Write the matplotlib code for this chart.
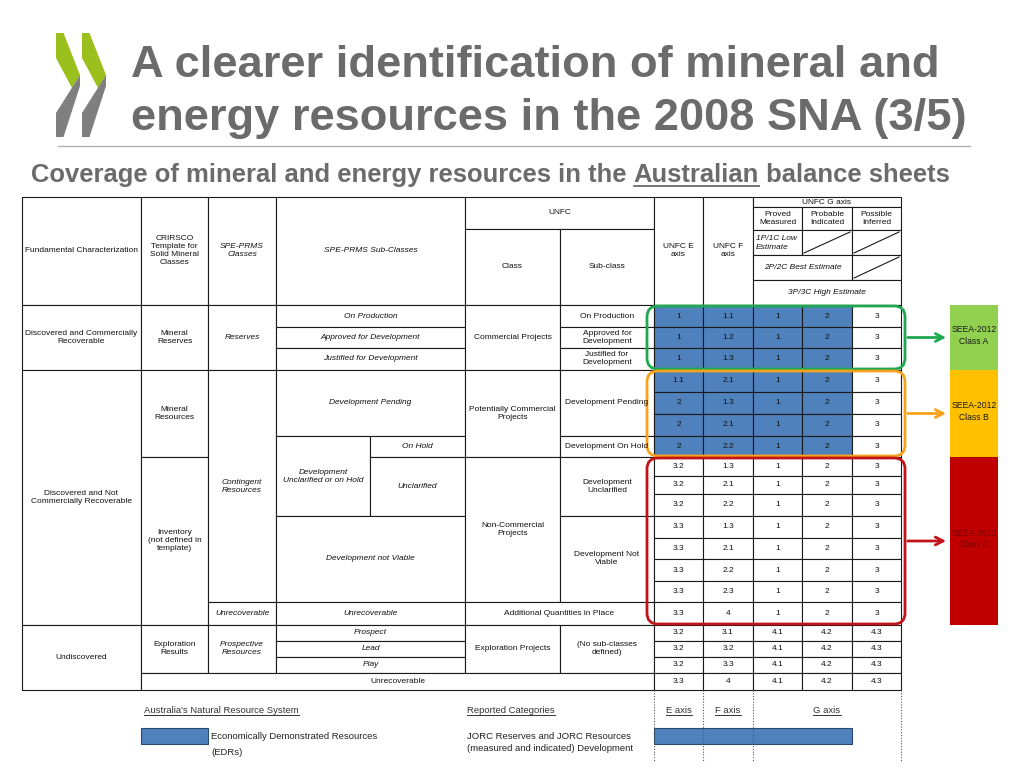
import matplotlib
matplotlib.use("Agg")
import matplotlib.pyplot as plt
from matplotlib.patches import Rectangle, Polygon, FancyBboxPatch

plt.rcParams["font.family"] = ["Liberation Sans", "DejaVu Sans"]

# ---- values ----
title_lines = ["A clearer identification of mineral and",
               "energy resources in the 2008 SNA (3/5)"]
subtitle = ["Coverage of mineral and energy resources in the ", "Australian", " balance sheets"]

e_axis = ["1", "1", "1", "1.1", "2", "2", "2", "3.2", "3.2", "3.2", "3.3", "3.3",
          "3.3", "3.3", "3.3", "3.2", "3.2", "3.2", "3.3"]
f_axis = ["1.1", "1.2", "1.3", "2.1", "1.3", "2.1", "2.2", "1.3", "2.1", "2.2", "1.3",
          "2.1", "2.2", "2.3", "4", "3.1", "3.2", "3.3", "4"]
g_proved = ["1", "1", "1", "1", "1", "1", "1", "1", "1", "1", "1", "1", "1", "1", "1",
            "4.1", "4.1", "4.1", "4.1"]
g_probable = ["2", "2", "2", "2", "2", "2", "2", "2", "2", "2", "2", "2", "2", "2", "2",
              "4.2", "4.2", "4.2", "4.2"]
g_possible = ["3", "3", "3", "3", "3", "3", "3", "3", "3", "3", "3", "3", "3", "3", "3",
              "4.3", "4.3", "4.3", "4.3"]
n_edr_rows = 7  # rows shaded as EDRs

seea_classes = ["SEEA-2012\nClass A", "SEEA-2012\nClass B", "SEEA-2012\nClass C"]

# ---- layout (pixels) ----
row_edges = [305, 327, 348, 370, 392, 414, 436, 457, 476, 494, 516, 538, 559, 581,
             602, 625, 641, 657, 673, 690]
num_cols = [654, 703, 753, 802, 852, 901]
class_rows = [(0, 3), (3, 7), (7, 15)]  # row ranges grouped into SEEA classes

line_c = "#1a1a1a"
blue = "#4F81BD"
grey_txt = "#6b6b6b"
class_c = ["#1fa84f", "#f7a21b", "#c0141a"]
box_c = ["#92D050", "#FFC000", "#C00000"]
box_txt = ["#1a1a1a", "#1a1a1a", "#7a0000"]

# (x0, x1, y0, y1, text, italic)
cells = [
    (22, 141, 197, 305, "Fundamental Characterization", False),
    (141, 208, 197, 305, "CRIRSCO\nTemplate for\nSolid Mineral\nClasses", False),
    (208, 276, 197, 305, "SPE-PRMS\nClasses", True),
    (276, 465, 197, 305, "SPE-PRMS Sub-Classes", True),
    (465, 654, 197, 229, "UNFC", False),
    (465, 560, 229, 305, "Class", False),
    (560, 654, 229, 305, "Sub-class", False),
    (654, 703, 197, 305, "UNFC E\naxis", False),
    (703, 753, 197, 305, "UNFC F\naxis", False),
    (753, 901, 197, 207, "UNFC G axis", False),
    (753, 802, 207, 230, "Proved\nMeasured", False),
    (802, 852, 207, 230, "Probable\nIndicated", False),
    (852, 901, 207, 230, "Possible\nInferred", False),
    (753, 802, 230, 255, "", False),
    (802, 852, 230, 255, "", False),
    (852, 901, 230, 255, "", False),
    (753, 852, 255, 280, "2P/2C Best Estimate", True),
    (852, 901, 255, 280, "", False),
    (753, 901, 280, 305, "3P/3C High Estimate", True),
    # left block
    (22, 141, 305, 370, "Discovered and Commercially\nRecoverable", False),
    (22, 141, 370, 625, "Discovered and Not\nCommercially Recoverable", False),
    (22, 141, 625, 690, "Undiscovered", False),
    (141, 208, 305, 370, "Mineral\nReserves", False),
    (141, 208, 370, 457, "Mineral\nResources", False),
    (141, 208, 457, 625, "Inventory\n(not defined in\ntemplate)", False),
    (141, 208, 625, 673, "Exploration\nResults", False),
    (208, 276, 305, 370, "Reserves", True),
    (208, 276, 370, 602, "Contingent\nResources", True),
    (208, 276, 602, 625, "Unrecoverable", True),
    (208, 276, 625, 673, "Prospective\nResources", True),
    (276, 465, 305, 327, "On Production", True),
    (276, 465, 327, 348, "Approved for Development", True),
    (276, 465, 348, 370, "Justified for Development", True),
    (276, 465, 370, 436, "Development Pending", True),
    (276, 370, 436, 516, "Development\nUnclarified or on Hold", True),
    (370, 465, 436, 457, "On Hold", True),
    (370, 465, 457, 516, "Unclarified", True),
    (276, 465, 516, 602, "Development not Viable", True),
    (276, 465, 602, 625, "Unrecoverable", True),
    (276, 465, 625, 641, "Prospect", True),
    (276, 465, 641, 657, "Lead", True),
    (276, 465, 657, 673, "Play", True),
    (465, 560, 305, 370, "Commercial Projects", False),
    (560, 654, 305, 327, "On Production", False),
    (560, 654, 327, 348, "Approved for\nDevelopment", False),
    (560, 654, 348, 370, "Justified for\nDevelopment", False),
    (465, 560, 370, 457, "Potentially Commercial\nProjects", False),
    (560, 654, 370, 436, "Development Pending", False),
    (560, 654, 436, 457, "Development On Hold", False),
    (465, 560, 457, 602, "Non-Commercial\nProjects", False),
    (560, 654, 457, 516, "Development\nUnclarified", False),
    (560, 654, 516, 602, "Development Not\nViable", False),
    (465, 654, 602, 625, "Additional Quantities in Place", False),
    (465, 560, 625, 673, "Exploration Projects", False),
    (560, 654, 625, 673, "(No sub-classes\ndefined)", False),
    (141, 654, 673, 690, "Unrecoverable", False),
]
diag_cells = [(802, 852, 230, 255), (852, 901, 230, 255), (852, 901, 255, 280)]

fig = plt.figure(figsize=(10.24, 7.68), dpi=100)
ax = fig.add_axes([0, 0, 1, 1])
ax.set_xlim(0, 1024)
ax.set_ylim(768, 0)
ax.axis("off")
renderer = fig.canvas.get_renderer()


def text_span(t):
    bb = t.get_window_extent(renderer)
    inv = ax.transData.inverted()
    return inv.transform((bb.x0, bb.y0))[0], inv.transform((bb.x1, bb.y0))[0]


def underlined(x, y, s, ha="left", fs=6.8, color="#333333"):
    t = ax.text(x, y, s, ha=ha, va="baseline", fontsize=fs, color=color)
    ax.plot(text_span(t), [y + 2, y + 2], color=color, lw=0.7)


# ---- logo ----
for dx in (0, 26):
    ax.add_patch(Polygon([(56 + dx, 33), (63.5 + dx, 33), (80 + dx, 75), (72 + dx, 88),
                          (56 + dx, 58)], closed=True, fc="#9bbf1c", ec="none"))
    ax.add_patch(Polygon([(80 + dx, 75), (80 + dx, 86), (63.5 + dx, 137), (56 + dx, 137),
                          (56 + dx, 113)], closed=True, fc="#7f7f7f", ec="none"))

# ---- title (size fitted to the slide width) ----
probe = ax.text(0, 0, title_lines[0], fontsize=30, fontweight="bold")
x0p, x1p = text_span(probe)
probe.remove()
title_fs = 30 * 810 / (x1p - x0p)
for i, s in enumerate(title_lines):
    ax.text(131, 77 + i * 53, s, fontsize=title_fs, fontweight="bold", color=grey_txt,
            va="baseline")
ax.plot([58, 970], [146, 146], color="#b0b0b0", lw=1)

probe = ax.text(0, 0, "".join(subtitle), fontsize=16, fontweight="bold")
x0p, x1p = text_span(probe)
probe.remove()
sub_fs = 16 * 914 / (x1p - x0p)
x = 31
for j, part in enumerate(subtitle):
    t = ax.text(x, 182, part, fontsize=sub_fs, fontweight="bold", color=grey_txt,
                va="baseline")
    xl, xr = text_span(t)
    if j == 1:
        ax.plot([xl, xr], [185.5, 185.5], color=grey_txt, lw=1.3)
    x = xr

# ---- table ----
for x0, x1, y0, y1, label, it in cells:
    ax.add_patch(Rectangle((x0, y0), x1 - x0, y1 - y0, fc="white", ec=line_c, lw=0.8))
    if label:
        ax.text((x0 + x1) / 2, (y0 + y1) / 2, label, ha="center", va="center",
                fontsize=6, style="italic" if it else "normal", linespacing=1.2,
                color="#111111")
ax.text(756, 243, "1P/1C Low\nEstimate", ha="left", va="center", fontsize=6,
        style="italic", linespacing=1.3, color="#111111")
for x0, x1, y0, y1 in diag_cells:
    ax.plot([x0 + 2, x1 - 2], [y1 - 2, y0 + 2], color=line_c, lw=0.8)

columns = [e_axis, f_axis, g_proved, g_probable, g_possible]
for r in range(len(e_axis)):
    y0, y1 = row_edges[r], row_edges[r + 1]
    for c, col in enumerate(columns):
        x0, x1 = num_cols[c], num_cols[c + 1]
        fc = blue if (r < n_edr_rows and c < 4) else "white"
        ax.add_patch(Rectangle((x0, y0), x1 - x0, y1 - y0, fc=fc, ec=line_c, lw=0.8))
        ax.text((x0 + x1) / 2, (y0 + y1) / 2, col[r], ha="center", va="center",
                fontsize=6, color="#111111")

# ---- SEEA class groups ----
for k, (r0, r1) in enumerate(class_rows):
    y0, y1 = row_edges[r0], row_edges[r1]
    ax.add_patch(FancyBboxPatch((647, y0 + 1), 258, y1 - y0 - 2,
                                boxstyle="round,pad=0,rounding_size=11",
                                fc="none", ec=class_c[k], lw=2))
    ym = (y0 + y1) / 2
    ax.annotate("", xy=(949, ym), xytext=(905, ym),
                arrowprops=dict(arrowstyle="->", color=class_c[k], lw=2,
                                mutation_scale=14))
    ax.add_patch(Rectangle((950, y0), 48, y1 - y0, fc=box_c[k], ec="none"))
    ax.text(974, ym - 2, seea_classes[k], ha="center", va="center", fontsize=6.2,
            color=box_txt[k], linespacing=1.3)

# ---- legend below ----
for xv in num_cols[:3] + num_cols[-1:]:
    ax.plot([xv, xv], [690, 762], color="#555555", lw=0.8, ls=(0, (1, 1.5)))
underlined(144, 713, "Australia's Natural Resource System")
underlined(467, 713, "Reported Categories")
underlined(679, 713, "E axis", ha="center")
underlined(728, 713, "F axis", ha="center")
underlined(827, 713, "G axis", ha="center")
ax.add_patch(Rectangle((141, 728), 67, 16, fc=blue, ec="#2a4a70", lw=0.8))
ax.add_patch(Rectangle((654, 728), 198, 16, fc=blue, ec="#2a4a70", lw=0.8))
ax.text(211, 739, "Economically Demonstrated Resources", fontsize=6.8, va="baseline",
        color="#222222")
ax.text(211, 755, "(EDRs)", fontsize=6.8, va="baseline", color="#222222")
ax.text(467, 739, "JORC Reserves and JORC Resources", fontsize=6.8, va="baseline",
        color="#222222")
ax.text(467, 751, "(measured and indicated) Development", fontsize=6.8, va="baseline",
        color="#222222")

fig.savefig("out.png", dpi=100)
